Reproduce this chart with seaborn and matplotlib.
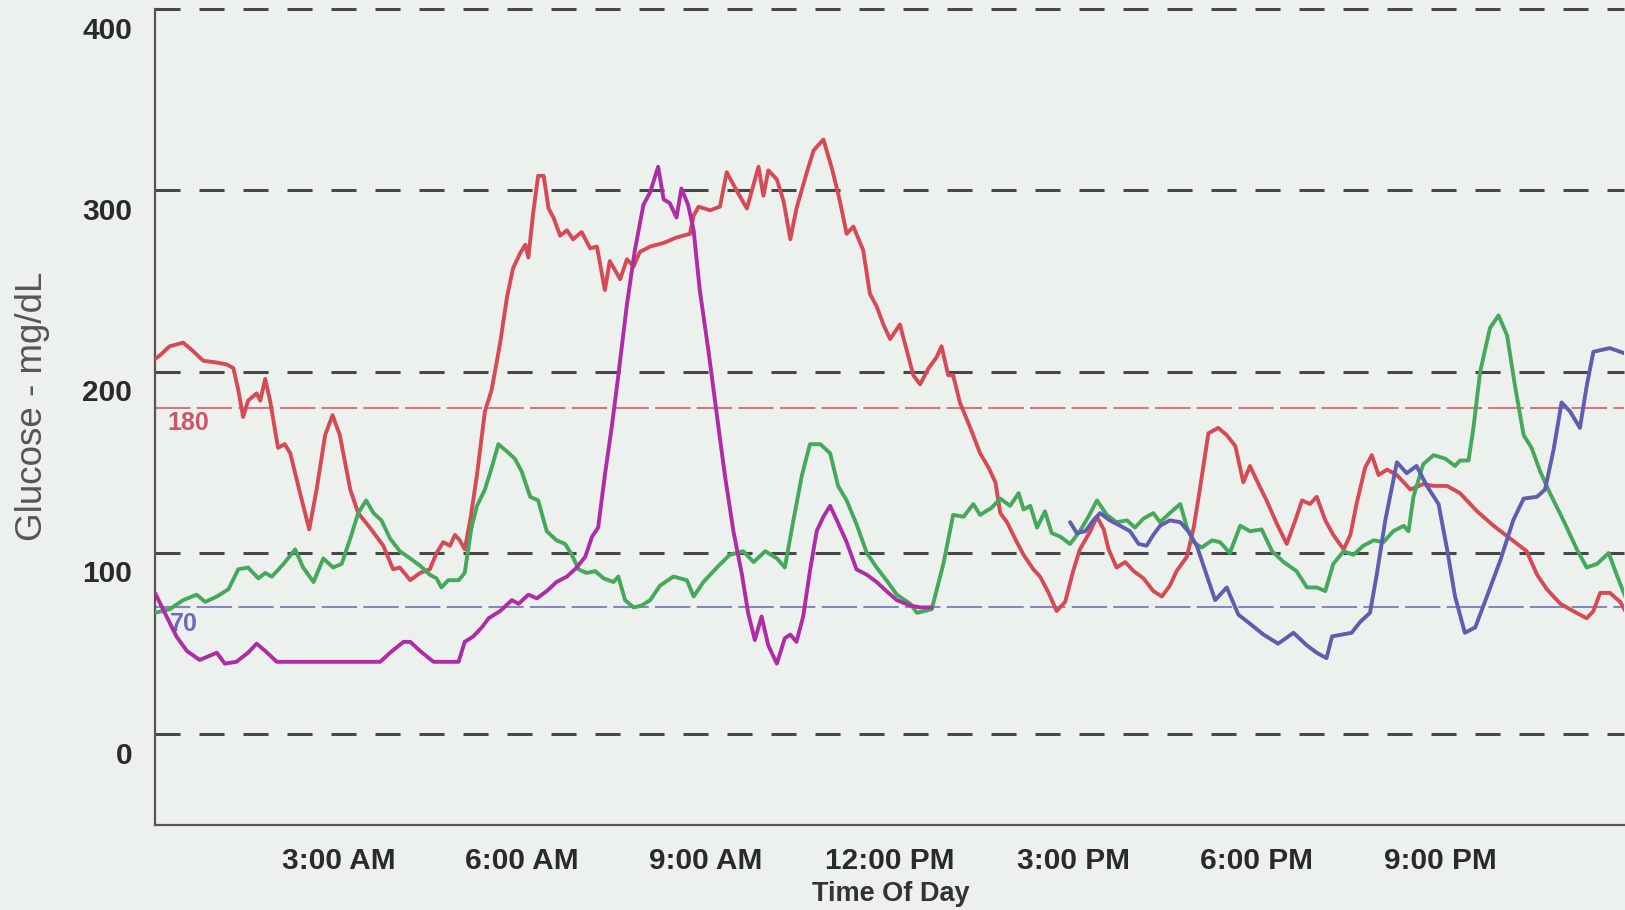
import matplotlib
matplotlib.use("Agg")
import matplotlib.pyplot as plt
import matplotlib.transforms as mtransforms
from matplotlib.ticker import MultipleLocator
import numpy as np
import pandas as pd
import seaborn as sns

# ---- data (hours since midnight, mg/dL) ----
red_hours = [0.00, 0.08, 0.24, 0.46, 0.60, 0.79, 1.01, 1.17, 1.28, 1.36, 1.44, 1.52, 1.66, 1.72,
             1.80, 1.88, 2.01, 2.12, 2.21, 2.37, 2.52, 2.64, 2.78, 2.90, 3.02, 3.19, 3.32, 3.51,
             3.73, 3.89, 4.00, 4.17, 4.33, 4.49, 4.60, 4.71, 4.82, 4.90, 4.98, 5.06, 5.15, 5.26,
             5.39, 5.50, 5.64, 5.75, 5.85, 5.96, 6.05, 6.10, 6.18, 6.26, 6.35, 6.43, 6.51, 6.62,
             6.73, 6.83, 6.97, 7.11, 7.22, 7.35, 7.43, 7.60, 7.71, 7.82, 7.92, 8.09, 8.31, 8.52,
             8.74, 8.80, 8.88, 9.07, 9.23, 9.34, 9.50, 9.67, 9.86, 9.94, 10.02, 10.16, 10.27,
             10.38, 10.48, 10.65, 10.76, 10.92, 11.06, 11.19, 11.30, 11.41, 11.57, 11.68, 11.79,
             11.90, 12.01, 12.17, 12.28, 12.39, 12.50, 12.64, 12.77, 12.85, 12.96, 13.04, 13.15,
             13.32, 13.48, 13.62, 13.73, 13.81, 13.92, 14.05, 14.19, 14.35, 14.46, 14.60, 14.73,
             14.87, 15.00, 15.11, 15.28, 15.39, 15.50, 15.58, 15.71, 15.85, 15.99, 16.15, 16.31,
             16.45, 16.58, 16.69, 16.86, 16.97, 17.07, 17.21, 17.37, 17.51, 17.65, 17.78, 17.89,
             18.00, 18.16, 18.33, 18.49, 18.63, 18.74, 18.87, 18.98, 19.12, 19.25, 19.42, 19.53,
             19.63, 19.77, 19.88, 19.99, 20.13, 20.29, 20.51, 20.72, 20.89, 21.11, 21.32, 21.60,
             21.87, 22.14, 22.41, 22.58, 22.74, 22.96, 23.17, 23.39, 23.50, 23.61, 23.77, 23.94,
             24.02]
red_mgdl = [207, 209, 214, 216, 212, 206, 205, 204, 202, 190, 175, 184, 188, 184,
            196, 184, 158, 160, 155, 133, 113, 135, 165, 176, 165, 135, 122, 114,
            104, 91, 92, 85, 89, 91, 100, 106, 104, 110, 107, 102, 118, 143,
            178, 190, 216, 241, 257, 265, 270, 263, 288, 308, 308, 290, 285, 275,
            278, 273, 277, 268, 269, 245, 261, 251, 262, 258, 266, 269, 271, 274,
            276, 286, 291, 289, 291, 310, 300, 290, 313, 297, 311, 306, 294,
            273, 290, 310, 322, 328, 312, 294, 276, 280, 267, 243, 236,
            226, 218, 226, 212, 198, 193, 202, 208, 214, 198, 198, 183,
            169, 155, 147, 139, 122, 117, 108, 99, 91, 87, 78, 68,
            73, 90, 102, 112, 120, 113, 102, 92, 95, 90, 86, 79,
            76, 82, 90, 98, 114, 135, 166, 169, 165, 159, 139, 148,
            140, 129, 116, 105, 118, 129, 127, 131, 118, 110, 102, 110,
            127, 147, 154, 143, 146, 143, 135, 138, 137, 137, 133, 123,
            115, 108, 101, 88, 80, 72, 68, 64, 68, 78, 78, 73,
            68]

green_hours = [0.00, 0.24, 0.46, 0.68, 0.82, 1.01, 1.20, 1.36, 1.52, 1.69, 1.80, 1.91, 2.10,
               2.29, 2.42, 2.59, 2.75, 2.91, 3.05, 3.19, 3.32, 3.45, 3.57, 3.70, 3.84, 4.00,
               4.17, 4.33, 4.49, 4.60, 4.68, 4.79, 4.96, 5.06, 5.17, 5.26, 5.39, 5.50, 5.61,
               5.75, 5.88, 5.99, 6.13, 6.26, 6.40, 6.56, 6.70, 6.81, 6.92, 7.05, 7.19, 7.33,
               7.49, 7.57, 7.68, 7.82, 7.95, 8.09, 8.25, 8.47, 8.69, 8.80, 8.96, 9.18, 9.39,
               9.61, 9.78, 9.97, 10.16, 10.29, 10.43, 10.57, 10.70, 10.87, 11.03, 11.16, 11.30,
               11.46, 11.63, 11.79, 11.95, 12.12, 12.34, 12.45, 12.69, 12.88, 13.04, 13.21,
               13.37, 13.48, 13.67, 13.81, 13.97, 14.11, 14.19, 14.30, 14.41, 14.54, 14.65,
               14.79, 14.95, 15.11, 15.25, 15.39, 15.55, 15.71, 15.88, 16.01, 16.15, 16.31,
               16.42, 16.58, 16.75, 16.86, 16.97, 17.10, 17.27, 17.40, 17.56, 17.73, 17.89,
               18.08, 18.25, 18.44, 18.65, 18.82, 18.98, 19.12, 19.25, 19.42, 19.58, 19.74,
               19.91, 20.07, 20.23, 20.40, 20.48, 20.56, 20.72, 20.89, 21.08, 21.24, 21.32,
               21.46, 21.54, 21.65, 21.81, 21.95, 22.09, 22.22, 22.36, 22.49, 22.63, 22.79,
               23.01, 23.23, 23.39, 23.56, 23.75, 23.88, 24.02]
green_mgdl = [67, 69, 74, 77, 73, 76, 80, 91, 92, 86, 89, 87, 94,
              102, 92, 84, 97, 92, 94, 108, 122, 129, 122, 118, 108, 101,
              97, 93, 88, 86, 81, 85, 85, 89, 114, 126, 135, 147, 160,
              156, 152, 145, 131, 129, 112, 107, 105, 99, 91, 89, 90, 86,
              84, 87, 74, 70, 71, 74, 82, 87, 85, 76, 84, 92, 99,
              101, 95, 101, 97, 92, 118, 143, 160, 160, 155, 137, 129,
              116, 100, 92, 85, 77, 72, 67, 69, 94, 121, 120,
              127, 121, 125, 130, 126, 133, 124, 126, 114, 123, 111,
              109, 105, 112, 120, 129, 121, 117, 118, 114, 119, 122,
              117, 122, 127, 114, 106, 103, 107, 106, 100, 115, 112,
              113, 101, 95, 90, 81, 81, 79, 94, 101, 99, 104,
              107, 106, 112, 115, 112, 131, 149, 154, 152, 148, 151,
              151, 169, 200, 224, 231, 220, 192, 165, 158, 145, 133,
              118, 102, 92, 94, 100, 88, 76]

magenta_hours = [0.00, 0.16, 0.35, 0.52, 0.73, 1.01, 1.14, 1.33, 1.52, 1.66, 1.80, 1.99, 2.91,
                 3.68, 3.84, 4.06, 4.17, 4.33, 4.55, 4.96, 5.06, 5.20, 5.34, 5.45, 5.64, 5.83,
                 5.94, 6.10, 6.24, 6.40, 6.56, 6.73, 6.89, 7.03, 7.14, 7.24, 7.35, 7.46, 7.57,
                 7.71, 7.84, 7.98, 8.09, 8.22, 8.31, 8.41, 8.52, 8.60, 8.71, 8.80, 8.90, 9.04,
                 9.18, 9.31, 9.45, 9.59, 9.69, 9.80, 9.91, 10.02, 10.16, 10.29, 10.38, 10.48,
                 10.59, 10.70, 10.81, 10.92, 11.03, 11.14, 11.30, 11.46, 11.63, 11.79, 11.95,
                 12.12, 12.34, 12.50, 12.69]
magenta_mgdl = [78, 67, 54, 46, 41, 45, 39, 40, 45, 50, 46, 40, 40,
                40, 45, 51, 51, 46, 40, 40, 51, 54, 59, 64, 68, 74,
                72, 77, 75, 79, 84, 87, 92, 98, 109, 114, 143, 169, 198,
                237, 267, 292, 299, 313, 295, 293, 285, 301, 292, 278, 245, 212,
                176, 143, 112, 88, 67, 52, 65, 49, 39, 53, 55, 51,
                65, 90, 112, 120, 126, 118, 106, 91, 88, 84, 79,
                74, 71, 70, 70]

blue_hours = [14.95, 15.06, 15.20, 15.33, 15.44, 15.60, 15.77, 15.93, 16.07, 16.20, 16.31, 16.42,
              16.58, 16.75, 16.88, 17.02, 17.16, 17.32, 17.51, 17.70, 17.89, 18.11, 18.35, 18.60,
              18.82, 18.98, 19.14, 19.23, 19.39, 19.55, 19.69, 19.85, 19.96, 20.10, 20.29, 20.45,
              20.61, 20.78, 20.97, 21.11, 21.24, 21.40, 21.57, 21.76, 21.98, 22.19, 22.36, 22.58,
              22.71, 22.85, 22.98, 23.12, 23.28, 23.39, 23.50, 23.77, 24.02]
blue_mgdl = [117, 111, 112, 118, 122, 118, 115, 112, 105, 104, 110, 115,
             118, 117, 112, 104, 90, 74, 81, 66, 61, 55, 50, 56,
             49, 45, 42, 54, 55, 56, 62, 67, 88, 118, 150, 144,
             148, 137, 127, 102, 76, 56, 59, 76, 96, 118, 130, 131,
             135, 157, 183, 178, 169, 192, 211, 213, 210]

grid_levels = [0, 100, 200, 300, 400]
high_limit = 180
low_limit = 70
hour_ticks = [3, 6, 9, 12, 15, 18, 21]
hour_labels = ["3:00 AM", "6:00 AM", "9:00 AM", "12:00 PM", "3:00 PM", "6:00 PM", "9:00 PM"]

BG = "#edf1ee"
palette = {"red": "#d64a55", "green": "#45a95b", "blue": "#5e5db0", "magenta": "#ae2ca6"}

series = [("red", red_hours, red_mgdl), ("green", green_hours, green_mgdl),
          ("blue", blue_hours, blue_mgdl), ("magenta", magenta_hours, magenta_mgdl)]
df = pd.concat([pd.DataFrame({"hour": h, "mgdl": v, "trace": n}) for n, h, v in series],
               ignore_index=True)

sns.set_theme(style="white")
plt.rcParams["font.family"] = ["Liberation Sans", "DejaVu Sans"]

fig = plt.figure(figsize=(16.25, 9.1), dpi=100, facecolor=BG)
ax = fig.add_axes([155 / 1625, 1 - 825 / 910, 1469 / 1625, 816 / 910])
ax.set_facecolor(BG)

# dashed reference grid + target range lines
for lvl in grid_levels:
    ax.axhline(lvl, color="#474747", lw=2.2, ls=(0, (8.2, 6.2)), zorder=1, clip_on=False)
ax.axhline(high_limit, color="#d9747f", lw=1.5, ls=(0, (17, 3)), zorder=1)
ax.axhline(low_limit, color="#8886c2", lw=1.5, ls=(0, (17, 3)), zorder=1)
ax.text(0.2, 171.5, "180", color="#cc5663", fontsize=18, fontweight="bold",
        ha="left", va="center", zorder=1.5)
ax.text(0.25, 61, "70", color="#6b6ab8", fontsize=18, fontweight="bold",
        ha="left", va="center", zorder=1.5)

sns.lineplot(data=df, x="hour", y="mgdl", hue="trace", palette=palette,
             estimator=None, sort=False, legend=False, linewidth=2.8, ax=ax, zorder=3)

ax.set_xlim(0, 24)
ax.set_ylim(-50, 400)

ax.set_xticks(hour_ticks, hour_labels, fontweight="bold")
ax.xaxis.set_minor_locator(MultipleLocator(1))
ax.set_yticks(grid_levels, [str(v) for v in grid_levels], fontweight="bold")

ax.tick_params(axis="x", which="major", direction="in", length=13, width=1.5,
               color="#555555", pad=16, labelsize=21.5, labelcolor="#2a2a2a")
ax.tick_params(axis="x", which="minor", direction="in", length=7, width=1.5,
               color="#555555")
ax.tick_params(axis="y", which="major", direction="out", length=15, width=2.2,
               color="#474747", pad=1.5, labelsize=21.5, labelcolor="#2a2a2a")

# y labels sit just below their grid line in the original
offset = mtransforms.ScaledTranslation(0, -18.5 / 100, fig.dpi_scale_trans)
for lab in ax.get_yticklabels():
    lab.set_transform(lab.get_transform() + offset)

for side in ["top", "right"]:
    ax.spines[side].set_visible(False)
for side in ["left", "bottom"]:
    ax.spines[side].set_color("#555555")
    ax.spines[side].set_linewidth(1.6)

ax.set_ylabel("Glucose - mg/dL", fontsize=26.5, color="#555555")
ax.yaxis.set_label_coords(-0.0835, 0.513)
ax.yaxis.label.set_va("center")
ax.set_xlabel("Time Of Day", fontsize=19.5, fontweight="bold", color="#333333")
ax.xaxis.set_label_coords(0.501, -0.0845)
ax.xaxis.label.set_va("center")

fig.savefig("out.png", dpi=100, facecolor=BG)
plt.close(fig)
